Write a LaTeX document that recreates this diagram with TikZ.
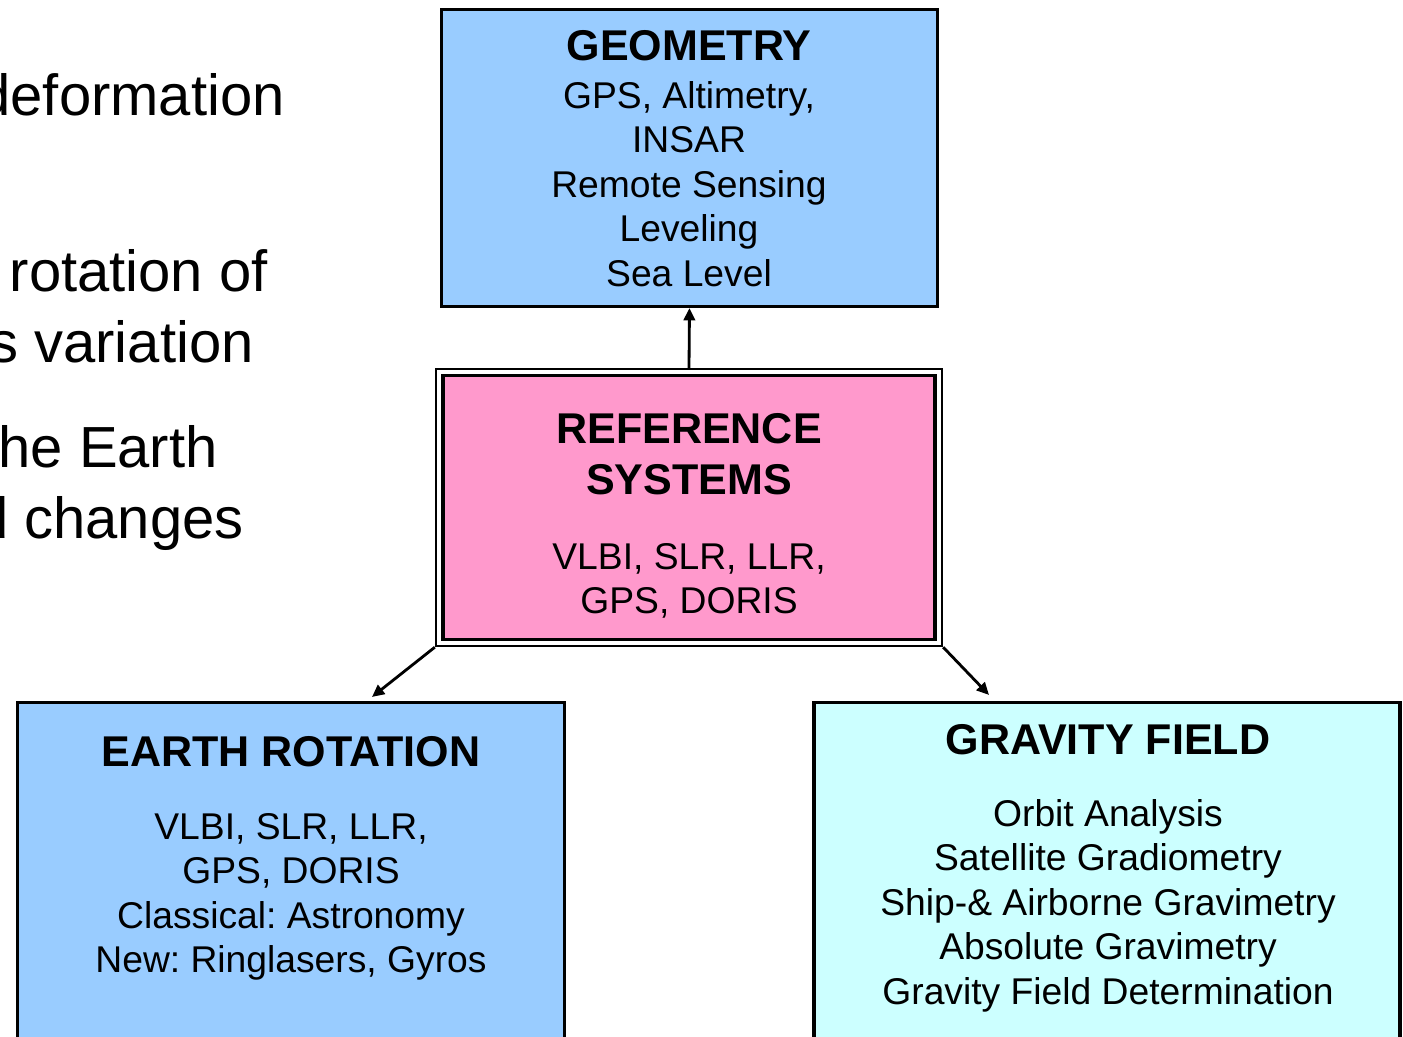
\documentclass[tikz,border=0pt]{standalone}
\usepackage{fontspec}
\setmainfont{Liberation Sans}
\usetikzlibrary{arrows.meta, positioning, calc}

\definecolor{geoblue}{HTML}{99CCFF}
\definecolor{refpink}{HTML}{FF99CC}
\definecolor{gravcyan}{HTML}{CCFFFF}
\frenchspacing

\begin{document}
\begin{tikzpicture}[
    x=0.02cm, y=-0.02cm,
    box/.style={rectangle, draw, line width=1.8pt, fill=#1, inner sep=0pt},
    heading/.style={font=\fontsize{24.5pt}{29pt}\selectfont\bfseries, anchor=north, inner sep=0pt, align=center},
    body/.style={font=\fontsize{21.2pt}{25.3pt}\selectfont, anchor=north, inner sep=0pt, align=center},
    side/.style={font=\fontsize{33pt}{40pt}\selectfont, anchor=base east, inner sep=0pt},
    arrow/.style={-{Triangle[length=7pt,width=6.5pt]}, line width=1.6pt},
]
    \useasboundingbox (0,0) rectangle (1403,1037);
    \clip (0,0) rectangle (1403,1037);

    % slide text cut at the left edge
    \node[side] (deform) at (285,116) {deformation};
    \node[side] (rotof) at (268,292) {rotation of};
    \node[side] (massvar) at (254,362) {s variation};
    \node[side] (earth1) at (218,467) {he Earth};
    \node[side] (changes) at (244,538) {d changes};

    % geometry
    \node[box=geoblue, minimum width=9.92cm, minimum height=5.94cm] (geo) at (689.5,158) {};
    \node[heading] (geohead) at (689,30) {GEOMETRY};
    \node[body] (geobody) at (689,81) {GPS, Altimetry,\\INSAR\\Remote Sensing\\Leveling\\Sea Level};

    % reference systems, double frame
    \node[box=white, line width=1.4pt, minimum width=10.12cm, minimum height=5.54cm] (ref) at (689,507.5) {};
    \node[box=refpink, line width=2pt, minimum width=9.84cm, minimum height=5.28cm] (refin) at (689,507.5) {};
    \node[heading] (refhead) at (689,413) {REFERENCE\\SYSTEMS};
    \node[body] (refbody) at (689,543) {VLBI, SLR, LLR,\\GPS, DORIS};

    % earth rotation
    \node[box=geoblue, minimum width=10.95cm, minimum height=8cm] (earth) at (291,902.5) {};
    \node[heading] (earthhead) at (291,736) {EARTH ROTATION};
    \node[body] (earthbody) at (291,813) {VLBI, SLR, LLR,\\GPS, DORIS\\Classical: Astronomy\\New: Ringlasers, Gyros};

    % gravity field
    \node[box=gravcyan, minimum width=11.72cm, minimum height=8cm] (grav) at (1107,902.5) {};
    \node[heading] (gravhead) at (1108,724) {GRAVITY FIELD};
    \node[body] (gravbody) at (1108,799) {Orbit Analysis\\Satellite Gradiometry\\Ship-\& Airborne Gravimetry\\Absolute Gravimetry\\Gravity Field Determination};

    \draw[arrow] (ref.north) -- (geo.south);
    \draw[arrow] (ref.south west) -- ([shift={(81,-4)}]earth.north);
    \draw[arrow] (ref.south east) -- ([shift={(-118,-6)}]grav.north);
\end{tikzpicture}
\end{document}
